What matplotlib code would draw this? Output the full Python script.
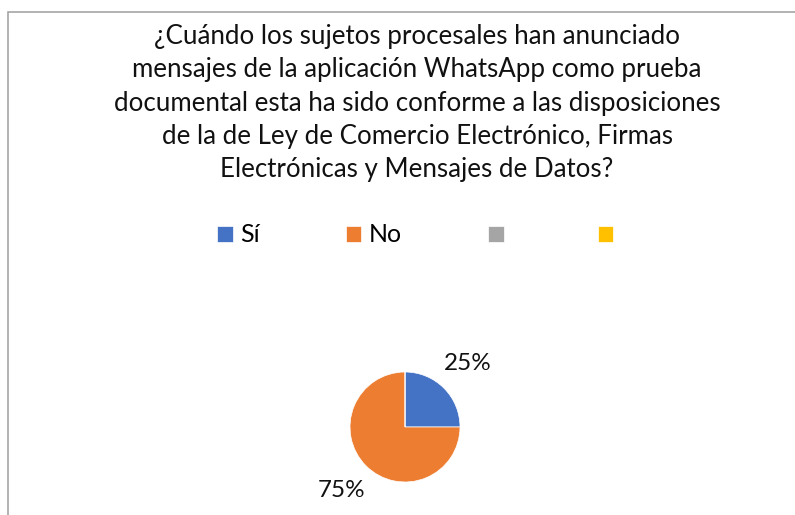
import matplotlib.pyplot as plt
from matplotlib.patches import Rectangle
import numpy as np

# datos
categorias = ["Sí", "No", "", ""]
porcentajes = [25, 75, 0, 0]
colores = ["#4472C4", "#ED7D31", "#A5A5A5", "#FFC000"]
titulo = ("¿Cuándo los sujetos procesales han anunciado\n"
          "mensajes de la aplicación WhatsApp como prueba\n"
          "documental esta ha sido conforme a las disposiciones\n"
          "de la de Ley de Comercio Electrónico, Firmas\n"
          "Electrónicas y Mensajes de Datos?")

plt.rcParams['font.family'] = ['Lato', 'DejaVu Sans']
W, H = 795, 515
fig = plt.figure(figsize=(W / 100, H / 100), dpi=100)

# marco gris del gráfico
fig.patches.append(Rectangle((8 / W, -0.1), 1.2, 1 - 12 / H + 0.1,
                             transform=fig.transFigure, fill=False,
                             edgecolor="#A6A6A6", linewidth=1.2))

fig.text(417 / W, 1 - 103 / H, titulo, ha="center", va="center",
         multialignment="center", fontsize=18.6, linespacing=1.42,
         color="#111111")

ax = fig.add_axes([350 / W, 33 / H, 110 / W, 110 / H])
wedges, _ = ax.pie(porcentajes, colors=colores, startangle=90,
                   counterclock=False,
                   wedgeprops=dict(edgecolor="white", linewidth=0.5))
# etiquetas de porcentaje solo para las porciones con valor
for w, p in zip(wedges, porcentajes):
    if p == 0:
        continue
    ang = np.deg2rad((w.theta1 + w.theta2) / 2)
    ax.text(1.62 * np.cos(ang), 1.62 * np.sin(ang), f"{p}%",
            ha="center", va="center", fontsize=17.5, color="#111111")
ax.set_xlim(-1, 1)
ax.set_ylim(-1, 1)
ax.set_aspect("equal")
ax.axis("off")

fig.legend(wedges, categorias, loc="center left", ncol=4,
           bbox_to_anchor=(217 / W, 1 - 235 / H), frameon=False,
           fontsize=18, handlelength=0.62, handleheight=0.62,
           handletextpad=0.3, columnspacing=3.45, borderaxespad=0,
           borderpad=0)

fig.savefig("out.png", dpi=100)
